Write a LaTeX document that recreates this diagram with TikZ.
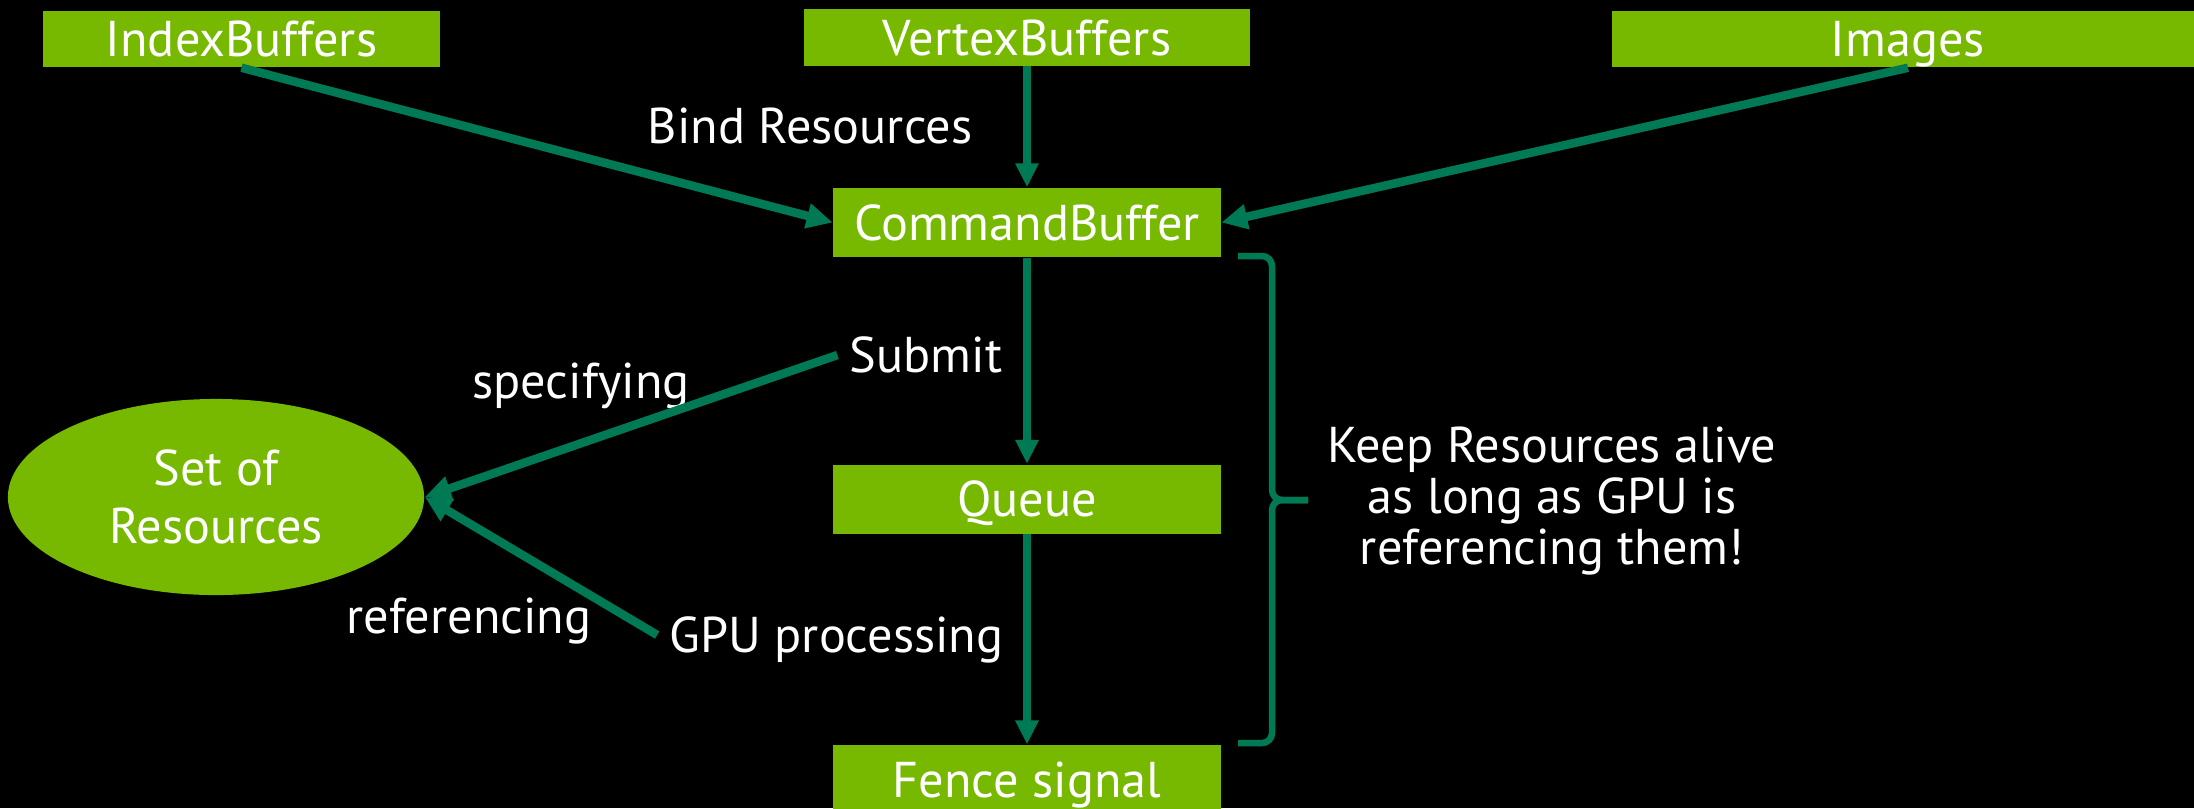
\documentclass[tikz,border=0pt]{standalone}
\usepackage{fontspec}
\setmainfont{PT Sans}
\usepackage{tikz}
\usetikzlibrary{arrows.meta,positioning,shapes.geometric}
\definecolor{nvgreen}{HTML}{76B900}
\definecolor{linkgreen}{HTML}{007A55}

\begin{document}
\begin{tikzpicture}[
  x=0.01cm, y=-0.01cm,
  font=\fontsize{14.3}{14.6}\selectfont,
  stage/.style={fill=nvgreen, text=white, inner sep=0pt,
    minimum width=3.87cm, minimum height=0.69cm,
    text height=0.35cm, text depth=0pt},
  source/.style={fill=nvgreen, text=white, inner sep=0pt,
    minimum height=0.56cm, text height=0.35cm, text depth=0pt},
  pool/.style={ellipse, fill=nvgreen, text=white, align=center, inner sep=0pt,
    minimum width=4.16cm, minimum height=1.96cm,
    font=\fontsize{14.3}{16.5}\selectfont},
  flow/.style={-{Triangle[length=2.4mm, width=2.2mm]}, line width=0.08cm, draw=linkgreen},
  refer/.style={-{Triangle[length=2.6mm, width=2.4mm]}, line width=0.085cm, draw=linkgreen},
  note/.style={text=white, text height=0.35cm, text depth=0pt},
  keepbrace/.style={draw=linkgreen, line width=0.065cm, rounded corners=0.1cm}
]
  \useasboundingbox (0,0) rectangle (2194,808);
  \fill[black] (0,0) rectangle (2194,808);

  % command path down the middle
  \node[stage] (cmdbuf) at (1027,222.5) {CommandBuffer};
  \node[stage, below=2.06cm of cmdbuf] (queue) {Queue};
  \node[stage, below=2.1cm of queue] (fence) {Fence signal};

  % resources bound into the command buffer
  \node[source, minimum width=4.45cm, above=1.21cm of cmdbuf] (vtx) {VertexBuffers};
  \node[source, minimum width=3.97cm] (idx) at (241.5,39) {IndexBuffers};
  \node[source, minimum width=5.92cm] (img) at (1908,39) {Images};

  \node[pool] (res) at (216,497) {Set of\\Resources};

  \node[note] (bind) at (810,126) {Bind Resources};
  \node[note] (submit) at (926,355) {Submit};
  \node[note] (gpu) at (836.5,635) {GPU processing};
  \node[note] (spec) at (581,381) {specifying};
  \node[note] (ref) at (469,616) {referencing};
  \node[text=white, align=center] (keep) at (1552,501)
    {Keep Resources alive\\as long as GPU is\\referencing them!};

  \draw[refer] (idx.south) -- (cmdbuf.west);
  \draw[flow] (vtx) -- (cmdbuf);
  \draw[refer] (img.south) -- (cmdbuf.east);
  \draw[flow] (cmdbuf) -- (queue);
  \draw[flow] (queue) -- (fence);
  \draw[refer] (submit.west) -- (res.east);
  \draw[refer] (gpu.west) -- (res.east);

  % brace over the lifetime span
  \draw[keepbrace] (1238,256) -| (1272,500) -- (1308,500);
  \draw[keepbrace] (1238,743) -| (1272,500) -- (1308,500);
\end{tikzpicture}
\end{document}
